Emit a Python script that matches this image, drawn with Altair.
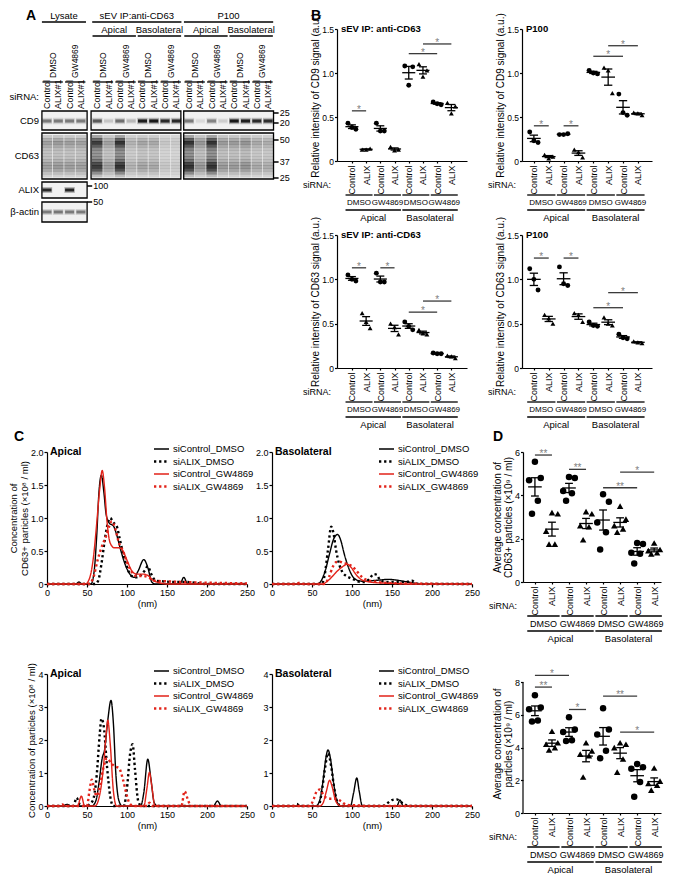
import altair as alt
import numpy as np
import pandas as pd

FONT = "Liberation Sans"
RED = "#e2231a"
BAR_GRAY = "#3a3a3a"
STAR_GRAY = "#808080"

# ---------------- Panel A: western blot (band darkness 0..1) ----------------
A_SIRNA = ["Control", "ALIX#1"] * 10
A_TREAT = ["DMSO", "GW4869"] * 5
A_BLOCKS = ["Lysate", "sEV IP:anti-CD63", "P100"]
A_SIDES = ["Apical", "Basolateral", "Apical", "Basolateral"]
A_ROWS = ["CD9", "CD63", "ALIX", "β-actin"]
CD9_BAND = [0.45, 0.45, 0.45, 0.45, 0.60, 0.15, 0.50, 0.20, 0.92, 0.95, 0.85, 0.85,
            0.45, 0.08, 0.42, 0.12, 0.95, 0.92, 0.85, 0.82]
CD63_BAND = [0.35, 0.38, 0.36, 0.35, 0.90, 0.35, 0.95, 0.25, 0.32, 0.30, 0.14, 0.12,
             0.95, 0.40, 0.95, 0.38, 0.38, 0.42, 0.30, 0.28]
ALIX_BAND = [0.85, 0.00, 0.88, 0.00]
ACTIN_BAND = [0.45, 0.47, 0.45, 0.45]
CD63_PROFILE = [0.35, 0.75, 1.00, 0.80, 0.55, 0.45, 0.45, 0.50, 0.65, 0.90, 1.00, 0.85, 0.50, 0.20]
MW_RIGHT = ["25", "20", "50", "37", "25"]
MW_LYSATE = ["100", "50"]

# ---------------- Panels B / D: dot plots ----------------
GRP_LABELS = ["Control", "ALIX"] * 4
GRP_TREAT = ["DMSO", "GW4869", "DMSO", "GW4869"]
GRP_SIDE = ["Apical", "Basolateral"]

B_CD9_SEV = [[0.43, 0.36, 0.38], [0.13, 0.14, 0.13], [0.43, 0.34, 0.34], [0.16, 0.13, 0.12],
             [1.08, 1.07, 0.86], [1.10, 1.03, 0.96], [0.67, 0.64, 0.65], [0.66, 0.62, 0.54]]
B_CD9_SEV_SIG = [(0, 1, 0.57, "*"), (4, 6, 1.22, "*"), (5, 7, 1.33, "*")]
B_CD9_P100 = [[0.33, 0.21, 0.23], [0.07, 0.05, 0.03], [0.30, 0.31, 0.30], [0.13, 0.04, 0.10],
              [1.03, 0.99, 1.00], [1.06, 0.77, 1.03], [0.76, 0.52, 0.55], [0.55, 0.52, 0.54]]
B_CD9_P100_SIG = [(0, 1, 0.40, "*"), (2, 3, 0.40, "*"), (4, 6, 1.19, "*"), (5, 7, 1.31, "*")]
B_CD63_SEV = [[1.05, 0.98, 1.00], [0.62, 0.45, 0.52], [1.07, 0.97, 0.97], [0.50, 0.38, 0.46],
              [0.52, 0.43, 0.47], [0.43, 0.38, 0.39], [0.17, 0.16, 0.16], [0.14, 0.11, 0.13]]
B_CD63_SEV_SIG = [(0, 1, 1.13, "*"), (2, 3, 1.13, "*"), (4, 6, 0.63, "*"), (5, 7, 0.755, "*")]
B_CD63_P100 = [[1.12, 0.88, 1.00], [0.60, 0.50, 0.56], [1.14, 0.93, 0.95], [0.62, 0.52, 0.60],
               [0.52, 0.47, 0.48], [0.57, 0.48, 0.50], [0.38, 0.33, 0.34], [0.30, 0.28, 0.29]]
B_CD63_P100_SIG = [(0, 1, 1.24, "*"), (2, 3, 1.24, "*"), (4, 6, 0.68, "*"), (5, 7, 0.85, "*")]

D_CD63 = [[5.55, 4.8, 4.7, 3.75, 3.15], [3.2, 3.15, 2.35, 1.75, 1.75], [4.85, 4.8, 4.2, 4.1, 3.75],
          [3.25, 3.15, 2.6, 2.55, 1.95], [4.05, 3.7, 2.75, 2.3, 1.5], [3.5, 2.9, 2.6, 2.45, 2.3],
          [1.8, 1.75, 1.35, 1.3, 0.85], [1.8, 1.5, 1.45, 1.35, 1.3]]
D_CD63_SIG = [(0, 1, 5.86, "**"), (2, 3, 5.2, "**"), (4, 6, 4.35, "**"), (5, 7, 5.07, "*")]
D_ALL = [[7.2, 6.45, 6.35, 5.65, 5.6], [5.0, 4.3, 4.2, 4.0, 3.85], [5.85, 5.1, 4.95, 4.45, 4.4],
         [4.3, 3.8, 3.6, 3.5, 2.2], [6.4, 5.1, 4.8, 3.8, 3.35], [4.3, 4.2, 4.0, 3.3, 2.5],
         [3.0, 2.8, 2.7, 1.9, 1.0], [2.75, 1.95, 1.8, 1.7, 1.4]]
D_ALL_SIG = [(0, 2, 8.41, "*"), (0, 1, 7.7, "**"), (2, 3, 6.33, "*"), (4, 6, 7.15, "**"), (5, 7, 4.94, "*")]

# ---------------- Panel C: size distributions (nm, value) ----------------
C_SERIES = ["siControl_DMSO", "siALIX_DMSO", "siControl_GW4869", "siALIX_GW4869"]
C_XTICKS = [0, 50, 100, 150, 200, 250]

C1_CTRL_DMSO = [(0, 0), (36, 0), (40, 0.03), (44, 0), (55, 0), (59, 0.2), (62, 0.7), (65, 1.4), (68, 1.65),
                (71, 1.4), (74, 1.05), (78, 0.92), (83, 0.88), (87, 0.75), (92, 0.52), (97, 0.32), (103, 0.16),
                (109, 0.1), (114, 0.2), (121, 0.37), (126, 0.25), (131, 0.03), (135, 0), (166, 0), (171, 0.1),
                (176, 0), (250, 0)]
C1_ALIX_DMSO = [(0, 0), (60, 0), (64, 0.05), (68, 0.3), (72, 0.65), (76, 0.92), (79, 1.0), (83, 0.93),
                (87, 0.88), (91, 0.68), (96, 0.42), (101, 0.22), (106, 0.12), (111, 0.1), (117, 0.13),
                (122, 0.2), (126, 0.27), (130, 0.16), (136, 0.05), (145, 0.04), (160, 0.03), (175, 0.03),
                (190, 0.01), (200, 0), (250, 0)]
C1_CTRL_GW = [(0, 0), (48, 0), (53, 0.08), (58, 0.4), (62, 0.9), (66, 1.45), (69, 1.72), (72, 1.45), (75, 0.95),
              (79, 0.62), (84, 0.55), (90, 0.55), (95, 0.5), (100, 0.36), (106, 0.2), (112, 0.15), (120, 0.15),
              (126, 0.13), (132, 0.06), (140, 0.02), (150, 0), (250, 0)]
C1_ALIX_GW = [(0, 0), (52, 0), (58, 0.1), (63, 0.35), (68, 0.55), (73, 0.7), (78, 0.88), (81, 0.95), (85, 0.85),
              (90, 0.62), (95, 0.5), (100, 0.33), (106, 0.18), (112, 0.12), (120, 0.12), (127, 0.1), (134, 0.05),
              (150, 0.04), (170, 0.03), (200, 0.02), (250, 0.01)]

C2_CTRL_DMSO = [(0, 0), (57, 0), (62, 0.06), (67, 0.22), (72, 0.46), (77, 0.68), (82, 0.75), (86, 0.66),
                (90, 0.47), (95, 0.27), (100, 0.13), (106, 0.06), (115, 0.04), (125, 0.05), (135, 0.06),
                (145, 0.07), (155, 0.06), (165, 0.04), (175, 0.02), (185, 0), (250, 0)]
C2_ALIX_DMSO = [(0, 0), (62, 0), (66, 0.15), (70, 0.52), (74, 0.87), (77, 0.76), (80, 0.52), (84, 0.3),
                (88, 0.18), (93, 0.12), (98, 0.09), (104, 0.06), (110, 0.03), (116, 0.03), (122, 0.08),
                (127, 0.15), (131, 0.14), (135, 0.06), (142, 0.03), (155, 0.03), (168, 0.03), (175, 0.05),
                (180, 0.01), (190, 0), (250, 0)]
C2_CTRL_GW = [(0, 0), (63, 0), (69, 0.04), (75, 0.11), (82, 0.2), (88, 0.26), (94, 0.3), (99, 0.25),
              (104, 0.16), (110, 0.08), (118, 0.04), (130, 0.02), (150, 0.01), (170, 0), (250, 0)]
C2_ALIX_GW = [(0, 0), (30, 0), (35, 0.02), (40, 0), (65, 0), (71, 0.1), (76, 0.26), (80, 0.33), (84, 0.34),
              (89, 0.32), (95, 0.3), (101, 0.26), (107, 0.18), (113, 0.1), (119, 0.06), (127, 0.04),
              (140, 0.02), (160, 0.01), (250, 0)]

C3_CTRL_DMSO = [(0, 0), (20, 0), (25, 0.05), (30, 0), (56, 0), (61, 0.15), (65, 0.7), (69, 1.45), (72, 1.7),
                (76, 2.6), (80, 3.2), (83, 2.5), (86, 1.0), (90, 0.15), (94, 0), (117, 0), (121, 0.4),
                (126, 1.42), (130, 0.8), (134, 0.1), (138, 0), (208, 0), (213, 0.15), (218, 0), (250, 0)]
C3_ALIX_DMSO = [(0, 0), (33, 0), (37, 0.25), (41, 0.05), (48, 0), (57, 0.15), (62, 0.9), (66, 2.2), (68, 2.65),
                (71, 2.4), (75, 1.2), (79, 0.3), (83, 0), (96, 0), (100, 0.55), (104, 1.6), (107, 1.87),
                (110, 1.1), (114, 0.15), (118, 0), (250, 0)]
C3_CTRL_GW = [(0, 0), (38, 0), (43, 0.3), (47, 0), (60, 0), (66, 0.35), (71, 1.3), (74, 2.2), (76, 2.6),
              (79, 1.9), (83, 0.45), (87, 0), (121, 0), (125, 0.55), (128, 1.02), (131, 0.6), (135, 0), (250, 0)]
C3_ALIX_GW = [(0, 0), (15, 0), (19, 0.05), (23, 0), (50, 0), (53, 0.45), (56, 0.8), (59, 0.5), (62, 0.3),
              (66, 0.6), (70, 1.1), (75, 1.45), (80, 1.3), (85, 1.2), (90, 1.15), (95, 0.8), (100, 0.3),
              (104, 0.05), (110, 0), (125, 0), (128, 0.1), (131, 0), (168, 0), (172, 0.45), (176, 0.2),
              (180, 0), (250, 0)]

C4_CTRL_DMSO = [(0, 0), (55, 0), (60, 0.2), (64, 0.8), (67, 1.4), (70, 1.7), (73, 1.45), (77, 0.7), (81, 0.15),
                (85, 0), (98, 0), (102, 0.4), (106, 0.85), (109, 0.45), (113, 0), (156, 0), (160, 0.18),
                (164, 0), (250, 0)]
C4_ALIX_DMSO = [(0, 0), (27, 0), (31, 0.06), (35, 0), (58, 0), (62, 0.4), (66, 1.1), (70, 1.6), (74, 1.2),
                (78, 0.5), (82, 0.1), (86, 0), (138, 0), (145, 0.1), (150, 0.18), (156, 0.2), (161, 0.12),
                (166, 0.05), (170, 0), (250, 0)]
C4_CTRL_GW = [(0, 0), (60, 0), (64, 0.1), (68, 0.45), (72, 0.78), (75, 0.6), (79, 0.2), (84, 0.02), (88, 0),
              (250, 0)]
C4_ALIX_GW = [(0, 0), (47, 0), (52, 0.2), (56, 0.45), (60, 0.5), (64, 0.35), (68, 0.25), (74, 0.22), (80, 0.22),
              (86, 0.15), (92, 0.05), (100, 0.02), (106, 0.03), (112, 0), (250, 0)]

ONE = pd.DataFrame({"k": [0]})


def txt(text, x, y, size=9, weight="normal", align="center", baseline="middle", color="black", opacity=1.0):
    return alt.Chart(ONE).mark_text(text=text, fontSize=size, fontWeight=weight, align=align,
                                    baseline=baseline, color=color, opacity=opacity, font=FONT).encode(
        x=alt.value(x), y=alt.value(y))


def spacer(y):
    return txt(".", 0, y, size=1, opacity=0)


# ---------------- Panel A ----------------
def panel_a():
    W, H = 235, 193
    xs = alt.Scale(domain=[0, 20.8], nice=False, zero=False)
    ys = alt.Scale(domain=[0, H], nice=False, zero=False, reverse=True)

    def X(f):
        return alt.X(f, scale=xs, axis=None)

    def Y(f):
        return alt.Y(f, scale=ys, axis=None)

    lane_u = [0, 1, 2, 3] + [4.45 + j for j in range(8)] + [12.57 + j for j in range(8)]
    blocks = [list(range(0, 4)), list(range(4, 12)), list(range(12, 20))]
    box_x = [(-0.45, 3.55), (3.9, 11.85), (12.1, 20.05)]
    row_y = {"CD9": (82, 101), "CD63": (104, 150), "ALIX": (153, 169), "β-actin": (173, 193)}
    row_c = {"CD9": 92, "CD63": 127, "ALIX": 161, "β-actin": 183}
    row_blocks = {"CD9": [0, 1, 2], "CD63": [0, 1, 2], "ALIX": [0], "β-actin": [0]}
    boxes = pd.DataFrame([dict(x1=box_x[b][0], x2=box_x[b][1], y1=row_y[r][0], y2=row_y[r][1])
                          for r in A_ROWS for b in row_blocks[r]])
    bands = []

    def band(u, yc, core, halo, o):
        bands.append(dict(x1=u - 0.46, x2=u + 0.46, y1=yc - halo, y2=yc + halo, o=o * 0.3))
        bands.append(dict(x1=u - 0.40, x2=u + 0.40, y1=yc - core, y2=yc + core, o=o))

    for i, u in enumerate(lane_u):
        band(u, 92, 1.6, 3.2, CD9_BAND[i])
        for k, p in enumerate(CD63_PROFILE):
            bands.append(dict(x1=u - 0.47, x2=u + 0.47, y1=106 + 3 * k, y2=109.4 + 3 * k,
                              o=0.08 + CD63_BAND[i] * p * 0.8))
    for i in range(4):
        band(lane_u[i], 161, 1.5, 3.0, ALIX_BAND[i])
        band(lane_u[i], 183, 1.5, 3.0, ACTIN_BAND[i])
    bands = pd.DataFrame(bands)

    lvl0 = pd.DataFrame([dict(label=A_BLOCKS[b], x=(lane_u[blocks[b][0]] + lane_u[blocks[b][-1]]) / 2,
                              x1=lane_u[blocks[b][0]] - 0.45, x2=lane_u[blocks[b][-1]] + 0.45,
                              yt=-13, yl=-7) for b in range(3)])
    lvl1 = []
    for q in range(4):
        b = 1 + q // 2
        ls = blocks[b][(q % 2) * 4:(q % 2) * 4 + 4]
        lvl1.append(dict(label=A_SIDES[q], x=(lane_u[ls[0]] + lane_u[ls[-1]]) / 2,
                         x1=lane_u[ls[0]] - 0.42, x2=lane_u[ls[-1]] + 0.42, yt=1, yl=7))
    lvl1 = pd.DataFrame(lvl1)
    treat = pd.DataFrame([dict(label=A_TREAT[p], x=(lane_u[2 * p] + lane_u[2 * p + 1]) / 2,
                               x1=lane_u[2 * p] - 0.4, x2=lane_u[2 * p + 1] + 0.4, yt=49, yl=53)
                          for p in range(10)])
    sirna = pd.DataFrame([dict(label=A_SIRNA[i], x=lane_u[i], yt=80) for i in range(20)])
    rowlab = pd.DataFrame([dict(label=r, y=row_c[r]) for r in A_ROWS])
    mw_r = pd.DataFrame([dict(label=l, y=y, x1=20.05, x2=20.5, xt=20.6)
                         for l, y in zip(MW_RIGHT, [84, 94, 111, 133, 149])])
    mw_l = pd.DataFrame([dict(label=l, y=y, x1=3.55, x2=4.0, xt=4.1)
                         for l, y in zip(MW_LYSATE, [157, 173])])

    L = []
    L.append(alt.Chart(boxes).mark_rect(fill="#f1f1f1").encode(
        x=X("x1:Q"), x2="x2:Q", y=Y("y1:Q"), y2="y2:Q"))
    L.append(alt.Chart(bands).mark_rect(color="#101010").encode(
        x=X("x1:Q"), x2="x2:Q", y=Y("y1:Q"), y2="y2:Q",
        opacity=alt.Opacity("o:Q", scale=alt.Scale(domain=[0, 1], range=[0, 1]), legend=None)))
    L.append(alt.Chart(boxes).mark_rect(fill="white", fillOpacity=0, stroke="black", strokeWidth=1.3).encode(
        x=X("x1:Q"), x2="x2:Q", y=Y("y1:Q"), y2="y2:Q"))
    for df in (lvl0, lvl1, treat):
        L.append(alt.Chart(df).mark_rule(color="black", strokeWidth=1.3).encode(
            x=X("x1:Q"), x2="x2:Q", y=Y("yl:Q")))
    for df in (lvl0, lvl1):
        L.append(alt.Chart(df).mark_text(fontSize=9.5, baseline="middle", font=FONT).encode(
            x=X("x:Q"), y=Y("yt:Q"), text="label:N"))
    L.append(alt.Chart(treat).mark_text(fontSize=8.5, angle=270, align="left", baseline="middle",
                                        font=FONT).encode(x=X("x:Q"), y=Y("yt:Q"), text="label:N"))
    L.append(alt.Chart(sirna).mark_text(fontSize=9, angle=270, align="left", baseline="middle",
                                        font=FONT).encode(x=X("x:Q"), y=Y("yt:Q"), text="label:N"))
    L.append(alt.Chart(rowlab).mark_text(fontSize=9.5, align="right", baseline="middle", font=FONT).encode(
        x=alt.value(-8), y=Y("y:Q"), text="label:N"))
    for df in (mw_r, mw_l):
        L.append(alt.Chart(df).mark_rule(color="black", strokeWidth=1.5).encode(
            x=X("x1:Q"), x2="x2:Q", y=Y("y:Q")))
        L.append(alt.Chart(df).mark_text(fontSize=9, align="left", baseline="middle", font=FONT).encode(
            x=X("xt:Q"), y=Y("y:Q"), text="label:N"))
    L.append(txt("siRNA:", -8, 68, size=9.5, align="right"))
    L.append(txt("A", -16, -13, size=14, weight="bold"))
    L.append(spacer(-19.5))
    L.append(spacer(195))
    return alt.layer(*L).properties(width=W, height=H)


# ---------------- dot plot panels (B, D) ----------------
def dot_panel(vals, sig, ydom, yvals, ylabexpr, ytitle, width, height, xdom, title=None, letter=None,
              size=24, jit=0.28, mhw=0.46, chw=0.28, grp_font=8.0, star_font=10, axis_top=None,
              label_font=8.5, spacers=()):
    pat = {3: [-1.0, 1.0, 0.0], 5: [0.0, 0.9, -0.9, 0.45, -0.45]}
    recs = []
    for g, pts in enumerate(vals):
        p = pat[len(pts)]
        for k, v in enumerate(pts):
            recs.append({"g": g, "xj": g + p[k] * jit, "v": v})
    pts_df = pd.DataFrame(recs)
    st = pts_df.groupby("g")["v"].agg(["mean", "std", "count"]).reset_index()
    st["sem"] = st["std"] / np.sqrt(st["count"])
    st["lo"] = st["mean"] - st["sem"]
    st["hi"] = st["mean"] + st["sem"]
    st["ma"] = st["g"] - mhw
    st["mb"] = st["g"] + mhw
    st["ca"] = st["g"] - chw
    st["cb"] = st["g"] + chw
    st["gx"] = st["g"].astype(float)

    xs = alt.Scale(domain=xdom, nice=False, zero=False)
    ys = alt.Scale(domain=ydom, nice=False, zero=False)
    lab_expr = "[" + ",".join("'%s'" % s for s in GRP_LABELS) + "][datum.value]"
    xaxis = alt.Axis(values=list(range(8)), labelExpr=lab_expr, labelAngle=270, labelFontSize=9,
                     title=None, tickSize=2, labelPadding=2)
    yaxis = alt.Axis(values=yvals, labelExpr=ylabexpr, title=ytitle, titleFontSize=10, labelFontSize=label_font,
                     tickSize=2.5, labelPadding=1, titlePadding=1, titleLineHeight=11,
                     domain=(axis_top is None))

    def X(f):
        return alt.X(f, scale=xs, axis=xaxis)

    def Y(f):
        return alt.Y(f, scale=ys, axis=yaxis)

    L = []
    L.append(alt.Chart(pts_df[pts_df["g"] % 2 == 0]).mark_point(
        shape="circle", filled=True, size=size, color="black", opacity=1).encode(
        x=X("xj:Q"), y=Y("v:Q")))
    L.append(alt.Chart(pts_df[pts_df["g"] % 2 == 1]).mark_point(
        shape="triangle-up", filled=True, size=size, color="black", opacity=1).encode(
        x=X("xj:Q"), y=Y("v:Q")))
    L.append(alt.Chart(st).mark_rule(color="black", strokeWidth=1.3).encode(
        x=X("ma:Q"), x2="mb:Q", y=Y("mean:Q")))
    for f in ("lo", "hi"):
        L.append(alt.Chart(st).mark_rule(color="black", strokeWidth=1.3).encode(
            x=X("ca:Q"), x2="cb:Q", y=Y(f + ":Q")))
    L.append(alt.Chart(st).mark_rule(color="black", strokeWidth=1.3).encode(
        x=X("gx:Q"), y=Y("lo:Q"), y2="hi:Q"))
    sig_df = pd.DataFrame([dict(i=i, j=j, y=y, lab=lab, mid=(i + j) / 2) for i, j, y, lab in sig])
    L.append(alt.Chart(sig_df).mark_rule(color=BAR_GRAY, strokeWidth=1.3).encode(
        x=X("i:Q"), x2="j:Q", y=Y("y:Q")))
    L.append(alt.Chart(sig_df).mark_text(color=STAR_GRAY, fontSize=star_font, baseline="alphabetic", dy=2,
                                         font=FONT).encode(x=X("mid:Q"), y=Y("y:Q"), text="lab:N"))
    if axis_top is not None:
        L.append(alt.Chart(pd.DataFrame({"a": [ydom[0]], "b": [axis_top]})).mark_rule(
            color="black", strokeWidth=1.2).encode(x=alt.value(0), y=Y("a:Q"), y2="b:Q"))
    g1 = pd.DataFrame([dict(s=2 * p - 0.45, e=2 * p + 1.45, m=2 * p + 0.5, label=GRP_TREAT[p]) for p in range(4)])
    g2 = pd.DataFrame([dict(s=4 * q - 0.45, e=4 * q + 3.45, m=4 * q + 1.5, label=GRP_SIDE[q]) for q in range(2)])
    L.append(alt.Chart(g1).mark_rule(color="black", strokeWidth=1.3).encode(
        x=X("s:Q"), x2="e:Q", y=alt.value(height + 34)))
    L.append(alt.Chart(g1).mark_text(fontSize=grp_font, baseline="middle", font=FONT).encode(
        x=X("m:Q"), y=alt.value(height + 42), text="label:N"))
    L.append(alt.Chart(g2).mark_rule(color="black", strokeWidth=1.3).encode(
        x=X("s:Q"), x2="e:Q", y=alt.value(height + 49)))
    L.append(alt.Chart(g2).mark_text(fontSize=9.5, baseline="middle", font=FONT).encode(
        x=X("m:Q"), y=alt.value(height + 56.5), text="label:N"))
    L.append(txt("siRNA:", -6, height + 24, size=9, align="right"))
    if title:
        L.append(txt(title, 4, 0, size=9.5, weight="bold", align="left"))
    if letter:
        L.append(txt(letter[0], letter[1], letter[2], size=14, weight="bold"))
    for s in spacers:
        L.append(spacer(s))
    return alt.layer(*L).properties(width=width, height=height)


# ---------------- size distribution panels (C) ----------------
def c_panel(curves, ymax, yvals, ylabexpr, ytitle, name, width=200, height=132, letter=None, spacers=()):
    xs = alt.Scale(domain=[0, 250], nice=False, zero=False)
    ys = alt.Scale(domain=[0, ymax], nice=False, zero=False)
    styles = [("black", [1, 0], 1.4), ("black", [2.3, 2.8], 2.4), (RED, [1, 0], 1.4), (RED, [2.3, 2.8], 2.4)]
    xaxis = alt.Axis(values=C_XTICKS, title="(nm)", labelFontSize=9, titleFontSize=9.5, tickSize=3,
                     labelPadding=1, titlePadding=1)
    ykw = dict(values=yvals, labelExpr=ylabexpr, labelFontSize=9, tickSize=3, labelPadding=1,
               titleFontSize=9.5, titlePadding=1, titleLineHeight=10.5)
    ykw["title"] = ytitle
    yaxis = alt.Axis(**ykw)
    L = []
    for idx, pts in enumerate(curves):
        df = pd.DataFrame(pts, columns=["nm", "val"])
        color, dash, sw = styles[idx]
        L.append(alt.Chart(df).mark_line(color=color, strokeDash=dash, strokeWidth=sw,
                                         interpolate="monotone").encode(
            x=alt.X("nm:Q", scale=xs, axis=xaxis),
            y=alt.Y("val:Q", scale=ys, axis=yaxis)))
    for idx, sname in enumerate(C_SERIES):
        color, dash, sw = styles[idx]
        ly = -3 + 12.5 * idx
        L.append(alt.Chart(ONE).mark_rule(color=color, strokeDash=dash, strokeWidth=sw).encode(
            x=alt.value(107), x2=alt.value(122), y=alt.value(ly)))
        L.append(txt(sname, 126, ly, size=9.5, align="left"))
    L.append(txt(name, 3, 0, size=10.5, weight="bold", align="left"))
    if letter:
        L.append(txt(letter[0], letter[1], letter[2], size=14, weight="bold"))
    for s in spacers:
        L.append(spacer(s))
    return alt.layer(*L).properties(width=width, height=height)


FMT1 = "datum.value == 0 ? '0' : format(datum.value, '.1f')"
FMT0 = "format(datum.value, 'd')"
B_YT = [0, 0.5, 1.0, 1.5]

A = panel_a()
B1 = dot_panel(B_CD9_SEV, B_CD9_SEV_SIG, [0, 1.5], B_YT, FMT1, "Relative intensity of CD9 signal (a.u.)",
               130, 132, [-1.05, 8.1], title="sEV IP: anti-CD63", letter=("B", -21, -13))
B2 = dot_panel(B_CD9_P100, B_CD9_P100_SIG, [0, 1.5], B_YT, FMT1, "Relative intensity of CD9 signal (a.u.)",
               130, 132, [-0.8, 7.95], title="P100")
E = alt.layer(spacer(-25), spacer(206)).properties(width=235, height=133)
B3 = dot_panel(B_CD63_SEV, B_CD63_SEV_SIG, [0, 1.5], B_YT, FMT1, "Relative intensity of CD63 signal (a.u.)",
               130, 133, [-1.05, 8.1], title="sEV IP: anti-CD63")
B4 = dot_panel(B_CD63_P100, B_CD63_P100_SIG, [0, 1.5], B_YT, FMT1, "Relative intensity of CD63 signal (a.u.)",
               130, 133, [-0.8, 7.95], title="P100")

C1 = c_panel([C1_CTRL_DMSO, C1_ALIX_DMSO, C1_CTRL_GW, C1_ALIX_GW], 2.0, [0, 0.5, 1.0, 1.5, 2.0], FMT1,
             ["Concentration of", "CD63+ particles (×10⁸ / ml)"], "Apical", letter=("C", -28, -15),
             spacers=(-25, 211))
C2 = c_panel([C2_CTRL_DMSO, C2_ALIX_DMSO, C2_CTRL_GW, C2_ALIX_GW], 2.0, [0, 0.5, 1.0, 1.5, 2.0], FMT1,
             None, "Basolateral")
D1 = dot_panel(D_CD63, D_CD63_SIG, [0, 6], [0, 2, 4, 6], FMT0,
               ["Average concentration of", "CD63+ particles (×10⁹ / ml)"], 138, 130, [-0.7, 7.4],
               letter=("D", -25, -15), size=42, jit=0.38, mhw=0.4, chw=0.23, grp_font=9, label_font=9)
C3 = c_panel([C3_CTRL_DMSO, C3_ALIX_DMSO, C3_CTRL_GW, C3_ALIX_GW], 4.0, [0, 1, 2, 3, 4], FMT0,
             "Concentration of particles (×10⁸ / ml)", "Apical", spacers=(-25,))
C4 = c_panel([C4_CTRL_DMSO, C4_ALIX_DMSO, C4_CTRL_GW, C4_ALIX_GW], 4.0, [0, 1, 2, 3, 4], FMT0,
             None, "Basolateral")
D2 = dot_panel(D_ALL, D_ALL_SIG, [0, 8.5], [0, 2, 4, 6, 8], FMT0,
               ["Average concentration of", "particles (×10⁹ / ml)"], 138, 139, [-0.7, 7.4],
               size=42, jit=0.38, mhw=0.4, chw=0.23, grp_font=9, label_font=9, axis_top=8)

SP1 = spacer(0).properties(width=1, height=132)
SP2 = spacer(0).properties(width=1, height=132)

row0 = alt.hconcat(A, B1, B2, spacing=55, bounds="flush")
row1 = alt.hconcat(E, B3, B4, spacing=55, bounds="flush")
row2 = alt.hconcat(C1, C2, SP1, D1, spacing=25, bounds="flush")
row3 = alt.hconcat(C3, C4, SP2, D2, spacing=25, bounds="flush")

chart = alt.vconcat(row0, row1, row2, row3, spacing=-15, padding=0).configure_view(
    strokeWidth=0).configure_axis(
    grid=False, domainColor="black", tickColor="black", labelColor="black", titleColor="black",
    labelFont=FONT, titleFont=FONT, titleFontWeight="normal", domainWidth=1.2, tickWidth=1.2,
    labelFlush=False, labelOverlap=False).configure_text(font=FONT)

chart.save("out.html", embed_options={"renderer": "svg", "actions": False})
